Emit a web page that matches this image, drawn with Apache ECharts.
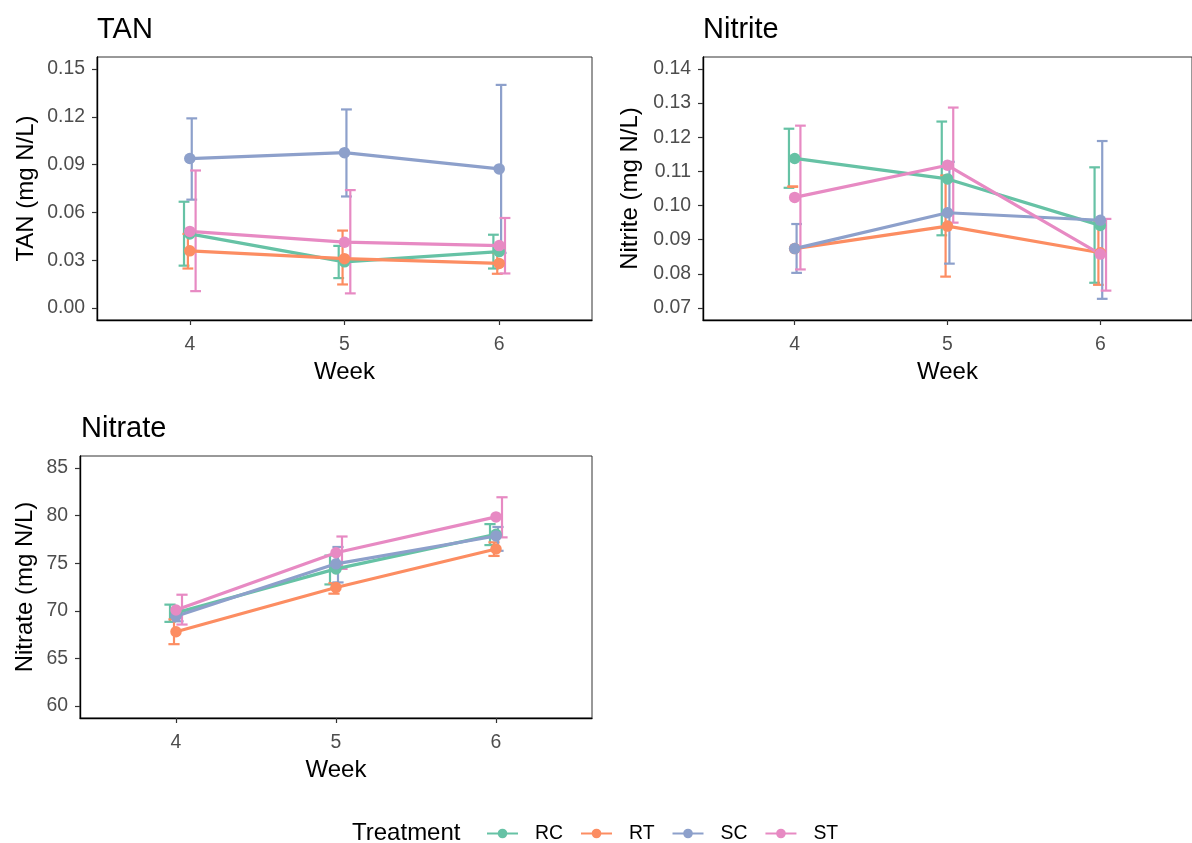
<!DOCTYPE html>
<html>
<head>
<meta charset="utf-8">
<script src="https://cdn.jsdelivr.net/npm/echarts@6/dist/echarts.min.js"></script>
<style>
html,body{margin:0;padding:0;background:#fff;}
#chart{width:1192px;height:843px;}
</style>
</head>
<body>
<div id="chart"></div>
<script>
// ---------- DATA ----------
const weeks = [4, 5, 6];
const treatments = ['RC', 'RT', 'SC', 'ST'];

// TAN (mg N/L)
const tanRC = [0.0465, 0.0290, 0.0354];
const tanRCLo = [0.0266, 0.0188, 0.0248];
const tanRCHi = [0.0667, 0.0390, 0.0460];
const tanRT = [0.0359, 0.0310, 0.0280];
const tanRTLo = [0.0248, 0.0148, 0.0215];
const tanRTHi = [0.0465, 0.0486, 0.0345];
const tanSC = [0.0938, 0.0975, 0.0873];
const tanSCLo = [0.0680, 0.0700, 0.0346];
const tanSCHi = [0.1190, 0.1246, 0.1400];
const tanST = [0.0481, 0.0413, 0.0392];
const tanSTLo = [0.0106, 0.0092, 0.0217];
const tanSTHi = [0.0863, 0.0740, 0.0565];
const tanTicks = [0.00, 0.03, 0.06, 0.09, 0.12, 0.15];

// Nitrite (mg N/L)
const nitriteRC = [0.1138, 0.1078, 0.0942];
const nitriteRCLo = [0.1052, 0.0913, 0.0774];
const nitriteRCHi = [0.1225, 0.1246, 0.1112];
const nitriteRT = [0.0874, 0.0940, 0.0862];
const nitriteRTLo = [0.1055, 0.0792, 0.0768];
const nitriteRTHi = [0.1056, 0.1088, 0.0956];
const nitriteSC = [0.0874, 0.0979, 0.0957];
const nitriteSCLo = [0.0803, 0.0830, 0.0727];
const nitriteSCHi = [0.0946, 0.1128, 0.1189];
const nitriteST = [0.1024, 0.1118, 0.0858];
const nitriteSTLo = [0.0813, 0.0950, 0.0751];
const nitriteSTHi = [0.1234, 0.1287, 0.0961];
const nitriteTicks = [0.07, 0.08, 0.09, 0.10, 0.11, 0.12, 0.13, 0.14];

// Nitrate (mg N/L)
const nitrateRC = [69.78, 74.40, 78.03];
const nitrateRCLo = [68.84, 72.77, 76.90];
const nitrateRCHi = [70.65, 75.80, 79.10];
const nitrateRT = [67.80, 72.45, 76.49];
const nitrateRTLo = [66.50, 71.80, 75.76];
const nitrateRTHi = [69.10, 72.90, 77.19];
const nitrateSC = [69.43, 74.93, 77.85];
const nitrateSCLo = [68.90, 72.98, 76.30];
const nitrateSCHi = [70.00, 76.70, 78.80];
const nitrateST = [70.09, 76.10, 79.86];
const nitrateSTLo = [68.56, 74.40, 77.71];
const nitrateSTHi = [71.69, 77.80, 81.92];
const nitrateTicks = [60, 65, 70, 75, 80, 85];

const weekTicks = [4, 5, 6];

// ---------- PANELS ----------
const panels = [
  { title: 'TAN', yName: 'TAN (mg N/L)', ticks: tanTicks, lim: [0, 0.15], dec: 2,
    mean: {RC: tanRC, RT: tanRT, SC: tanSC, ST: tanST},
    lo: {RC: tanRCLo, RT: tanRTLo, SC: tanSCLo, ST: tanSTLo},
    hi: {RC: tanRCHi, RT: tanRTHi, SC: tanSCHi, ST: tanSTHi} },
  { title: 'Nitrite', yName: 'Nitrite (mg N/L)', ticks: nitriteTicks, lim: [0.07, 0.14], dec: 2,
    mean: {RC: nitriteRC, RT: nitriteRT, SC: nitriteSC, ST: nitriteST},
    lo: {RC: nitriteRCLo, RT: nitriteRTLo, SC: nitriteSCLo, ST: nitriteSTLo},
    hi: {RC: nitriteRCHi, RT: nitriteRTHi, SC: nitriteSCHi, ST: nitriteSTHi} },
  { title: 'Nitrate', yName: 'Nitrate (mg N/L)', ticks: nitrateTicks, lim: [60, 85], dec: 0,
    mean: {RC: nitrateRC, RT: nitrateRT, SC: nitrateSC, ST: nitrateST},
    lo: {RC: nitrateRCLo, RT: nitrateRTLo, SC: nitrateSCLo, ST: nitrateSTLo},
    hi: {RC: nitrateRCHi, RT: nitrateRTHi, SC: nitrateSCHi, ST: nitrateSTHi} }
];

// ---------- STYLE / LAYOUT ----------
const colors = {RC: '#66C2A5', RT: '#FC8D62', SC: '#8DA0CB', ST: '#E78AC3'};
const dodge = {RC: -0.0375, RT: -0.0125, SC: 0.0125, ST: 0.0375};
const capWidth = 0.07;
const FONT = '"Liberation Sans", Arial, sans-serif';
const layout = [
  { grid: {left: 97, top: 57, width: 495, height: 263}, yGap: 59, titlePos: {left: 97, top: 15} },
  { grid: {left: 703, top: 57, width: 494, height: 263}, yGap: 61, titlePos: {left: 703, top: 15} },
  { grid: {left: 80, top: 456, width: 512, height: 262}, yGap: 43, titlePos: {left: 81, top: 414} }
];

function errRenderer(off) {
  return function (params, api) {
    const x = api.value(0) + off;
    const lo = api.value(1), hi = api.value(2);
    const pLo = api.coord([x, lo]);
    const pHi = api.coord([x, hi]);
    const hw = api.size([capWidth, 0])[0] / 2;
    const col = api.visual('color');
    const st = () => ({stroke: col, lineWidth: 2.2, fill: null});
    return {
      type: 'group',
      children: [
        {type: 'line', shape: {x1: pLo[0], y1: pLo[1], x2: pHi[0], y2: pHi[1]}, style: st()},
        {type: 'line', shape: {x1: pLo[0] - hw, y1: pLo[1], x2: pLo[0] + hw, y2: pLo[1]}, style: st()},
        {type: 'line', shape: {x1: pHi[0] - hw, y1: pHi[1], x2: pHi[0] + hw, y2: pHi[1]}, style: st()}
      ]
    };
  };
}

const grids = [], xAxes = [], yAxes = [], titles = [];
const lineSeries = [], pointSeries = [], errSeries = [];

panels.forEach((p, i) => {
  const L = layout[i];
  grids.push(Object.assign({show: true, borderColor: '#333', borderWidth: 1, backgroundColor: '#fff'}, L.grid));
  const ext = (p.lim[1] - p.lim[0]) * 0.05;
  xAxes.push({
    gridIndex: i, type: 'value', min: 3.4, max: 6.6,
    name: 'Week', nameLocation: 'middle', nameGap: 40,
    nameTextStyle: {fontSize: 24, color: '#000', fontFamily: FONT},
    axisLine: {show: true, onZero: false, lineStyle: {color: '#000', width: 1.4}},
    axisTick: {show: true, customValues: weekTicks, length: 5, lineStyle: {color: '#333', width: 1.2}},
    axisLabel: {show: true, customValues: weekTicks, margin: 15, fontSize: 19.4, color: '#4D4D4D', fontFamily: FONT,
      formatter: v => String(Math.round(v))},
    splitLine: {show: false}
  });
  yAxes.push({
    gridIndex: i, type: 'value', min: p.lim[0] - ext, max: p.lim[1] + ext,
    name: p.yName, nameLocation: 'middle', nameGap: L.yGap,
    nameTextStyle: {fontSize: 24, color: '#000', fontFamily: FONT},
    axisLine: {show: true, onZero: false, lineStyle: {color: '#000', width: 1.4}},
    axisTick: {show: true, customValues: p.ticks, length: 5, lineStyle: {color: '#333', width: 1.2}},
    axisLabel: {show: true, customValues: p.ticks, margin: 12, fontSize: 19.4, color: '#4D4D4D', fontFamily: FONT,
      formatter: v => Number(v).toFixed(p.dec)},
    splitLine: {show: false}
  });
  titles.push({text: p.title, left: L.titlePos.left, top: L.titlePos.top, padding: 0,
    textStyle: {fontSize: 29, fontWeight: 'normal', color: '#000', fontFamily: FONT}});

  treatments.forEach(t => {
    const pts = weeks.map((w, k) => [w, p.mean[t][k]]);
    lineSeries.push({
      name: t, type: 'line', xAxisIndex: i, yAxisIndex: i, data: pts,
      symbol: 'circle', symbolSize: 11, showSymbol: false, z: 3,
      lineStyle: {color: colors[t], width: 3.2}, itemStyle: {color: colors[t]},
      emphasis: {disabled: true}, silent: true
    });
    pointSeries.push({
      name: t, type: 'scatter', xAxisIndex: i, yAxisIndex: i, data: pts,
      symbol: 'circle', symbolSize: 11.5, z: 4,
      itemStyle: {color: colors[t], opacity: 1}, emphasis: {disabled: true}, silent: true
    });
    errSeries.push({
      name: t, type: 'custom', xAxisIndex: i, yAxisIndex: i,
      data: weeks.map((w, k) => [w, p.lo[t][k], p.hi[t][k]]),
      encode: {x: 0, y: [1, 2]},
      renderItem: errRenderer(dodge[t]), z: 2,
      itemStyle: {color: colors[t]}, silent: true
    });
  });
});

titles.push({text: 'Treatment', left: 352, top: 821, padding: 0,
  textStyle: {fontSize: 24, fontWeight: 'normal', color: '#000', fontFamily: FONT}});

const option = {
  animation: false,
  backgroundColor: '#fff',
  title: titles,
  grid: grids,
  xAxis: xAxes,
  yAxis: yAxes,
  legend: {
    data: treatments, left: 486, top: 824, orient: 'horizontal', padding: 0,
    itemWidth: 31, itemHeight: 12, itemGap: 17,
    selectedMode: false,
    textStyle: {fontSize: 19.4, color: '#000', fontFamily: FONT, padding: [0, 0, 0, 12], width: 28}
  },
  series: lineSeries.concat(pointSeries, errSeries)
};

const chart = echarts.init(document.getElementById('chart'), null, {renderer: 'canvas'});
chart.setOption(option);
</script>
</body>
</html>
